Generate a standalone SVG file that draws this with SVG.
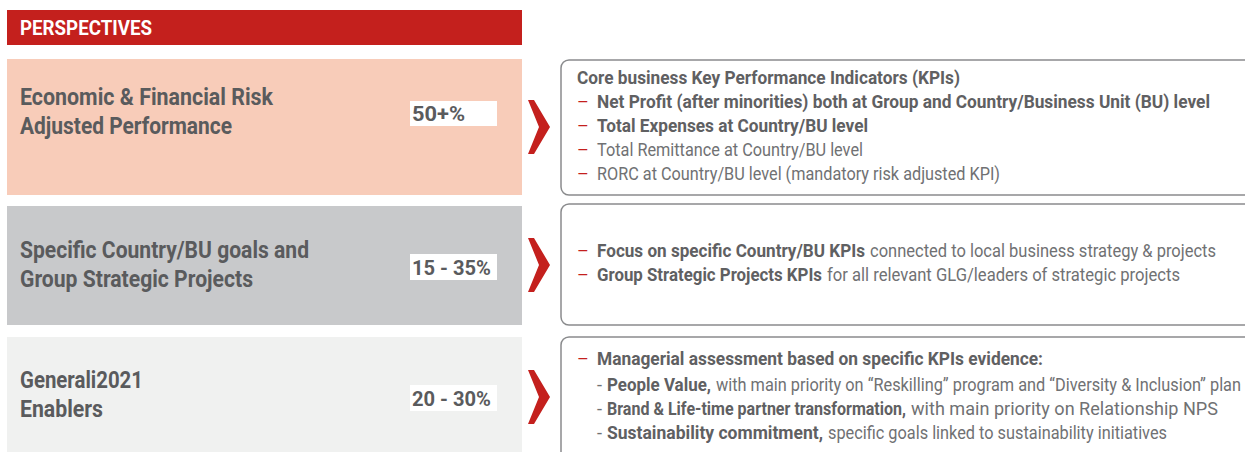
<svg xmlns="http://www.w3.org/2000/svg" width="1245" height="452" viewBox="0 0 1245 452">
  <defs>
    <style>
      text { font-family: Roboto, "Liberation Sans", sans-serif; }
      .hdr { font-size: 20px; font-weight: bold; fill: #ffffff; }
      .ttl { font-size: 23px; font-weight: bold; fill: #5a5b5d; }
      .pct { font-size: 21px; font-weight: bold; fill: #5a5b5d; }
      .b { font-size: 18px; font-weight: bold; fill: #5f6062; }
      .r { font-size: 18px; fill: #707173; }
      .dash { font-size: 18px; fill: #c4201d; }
      .card { fill: #ffffff; stroke: #8a8b8d; stroke-width: 1.5; }
      .chev { fill: #c4201d; }
      .pbox { fill: #ffffff; }
    </style>
  </defs>

  <rect width="1245" height="452" fill="#ffffff"/>

  <!-- header bar -->
  <g id="header">
    <rect x="7" y="10" width="515" height="35" fill="#c4201d"/>
    <text class="hdr" x="20" y="35" textLength="132" lengthAdjust="spacingAndGlyphs">PERSPECTIVES</text>
  </g>

  <!-- perspective 1 -->
  <g id="perspective-economic">
    <rect x="7" y="59" width="515" height="136" fill="#f8ccb9"/>
    <text class="ttl" x="20" y="105" textLength="253" lengthAdjust="spacingAndGlyphs">Economic &amp; Financial Risk</text>
    <text class="ttl" x="20" y="134" textLength="212" lengthAdjust="spacingAndGlyphs">Adjusted Performance</text>
    <rect class="pbox" x="410" y="101" width="87" height="25"/>
    <text class="pct" x="412" y="121" textLength="53" lengthAdjust="spacingAndGlyphs">50+%</text>
  </g>

  <!-- perspective 2 -->
  <g id="perspective-country">
    <rect x="7" y="206" width="515" height="119" fill="#c8c9cb"/>
    <text class="ttl" x="20" y="258" textLength="289" lengthAdjust="spacingAndGlyphs">Specific Country/BU goals and</text>
    <text class="ttl" x="20" y="287" textLength="233" lengthAdjust="spacingAndGlyphs">Group Strategic Projects</text>
    <rect class="pbox" x="410" y="254" width="87" height="26"/>
    <text class="pct" x="412" y="275" textLength="79" lengthAdjust="spacingAndGlyphs">15 - 35%</text>
  </g>

  <!-- perspective 3 -->
  <g id="perspective-enablers">
    <rect x="7" y="337" width="515" height="115" fill="#f0f1f0"/>
    <text class="ttl" x="20" y="388" textLength="123" lengthAdjust="spacingAndGlyphs">Generali2021</text>
    <text class="ttl" x="20" y="417" textLength="83" lengthAdjust="spacingAndGlyphs">Enablers</text>
    <rect class="pbox" x="410" y="385" width="87" height="26"/>
    <text class="pct" x="412" y="406" textLength="79" lengthAdjust="spacingAndGlyphs">20 - 30%</text>
  </g>

  <!-- chevrons linking perspectives to KPI cards -->
  <g id="connectors">
    <polygon class="chev" points="528,100 534,100 550,127 534,154 528,154 539,127"/>
    <polygon class="chev" points="528,238 534,238 550,265 534,292 528,292 539,265"/>
    <polygon class="chev" points="528,370 534,370 550,397 534,424 528,424 539,397"/>
  </g>

  <!-- KPI card 1 -->
  <g id="kpi-core">
    <rect class="card" x="561" y="60" width="700" height="135" rx="8"/>
    <text class="b" x="577" y="84" textLength="383" lengthAdjust="spacingAndGlyphs">Core business Key Performance Indicators (KPIs)</text>
    <text class="dash" x="577" y="108">–</text>
    <text class="b" x="597" y="108" textLength="613" lengthAdjust="spacingAndGlyphs">Net Profit (after minorities) both at Group and Country/Business Unit (BU) level</text>
    <text class="dash" x="577" y="132">–</text>
    <text class="b" x="597" y="132" textLength="271" lengthAdjust="spacingAndGlyphs">Total Expenses at Country/BU level</text>
    <text class="dash" x="577" y="156">–</text>
    <text class="r" x="597" y="156" textLength="266" lengthAdjust="spacingAndGlyphs">Total Remittance at Country/BU level</text>
    <text class="dash" x="577" y="180">–</text>
    <text class="r" x="597" y="180" textLength="403" lengthAdjust="spacingAndGlyphs">RORC at Country/BU level (mandatory risk adjusted KPI)</text>
  </g>

  <!-- KPI card 2 -->
  <g id="kpi-country">
    <rect class="card" x="561" y="204" width="700" height="121" rx="8"/>
    <text class="dash" x="577" y="257">–</text>
    <text class="b" x="597" y="257" textLength="268" lengthAdjust="spacingAndGlyphs">Focus on specific Country/BU KPIs</text>
    <text class="r" x="870" y="257" textLength="346" lengthAdjust="spacingAndGlyphs">connected to local business strategy &amp; projects</text>
    <text class="dash" x="577" y="281">–</text>
    <text class="b" x="597" y="281" textLength="225" lengthAdjust="spacingAndGlyphs">Group Strategic Projects KPIs</text>
    <text class="r" x="827" y="281" textLength="353" lengthAdjust="spacingAndGlyphs">for all relevant GLG/leaders of strategic projects</text>
  </g>

  <!-- KPI card 3 -->
  <g id="kpi-enablers">
    <rect class="card" x="561" y="337" width="700" height="130" rx="8"/>
    <text class="dash" x="577" y="365">–</text>
    <text class="b" x="597" y="365" textLength="446" lengthAdjust="spacingAndGlyphs">Managerial assessment based on specific KPIs evidence:</text>
    <text class="r" x="597" y="391">-</text>
    <text class="b" x="607" y="391" textLength="104" lengthAdjust="spacingAndGlyphs">People Value,</text>
    <text class="r" x="716" y="391" textLength="525" lengthAdjust="spacingAndGlyphs">with main priority on “Reskilling” program and “Diversity &amp; Inclusion” plan</text>
    <text class="r" x="597" y="415">-</text>
    <text class="b" x="607" y="415" textLength="299" lengthAdjust="spacingAndGlyphs">Brand &amp; Life-time partner transformation,</text>
    <text class="r" x="911" y="415" textLength="307" lengthAdjust="spacingAndGlyphs">with main priority on Relationship NPS</text>
    <text class="r" x="597" y="439">-</text>
    <text class="b" x="607" y="439" textLength="216" lengthAdjust="spacingAndGlyphs">Sustainability commitment,</text>
    <text class="r" x="828" y="439" textLength="339" lengthAdjust="spacingAndGlyphs">specific goals linked to sustainability initiatives</text>
  </g>
</svg>
